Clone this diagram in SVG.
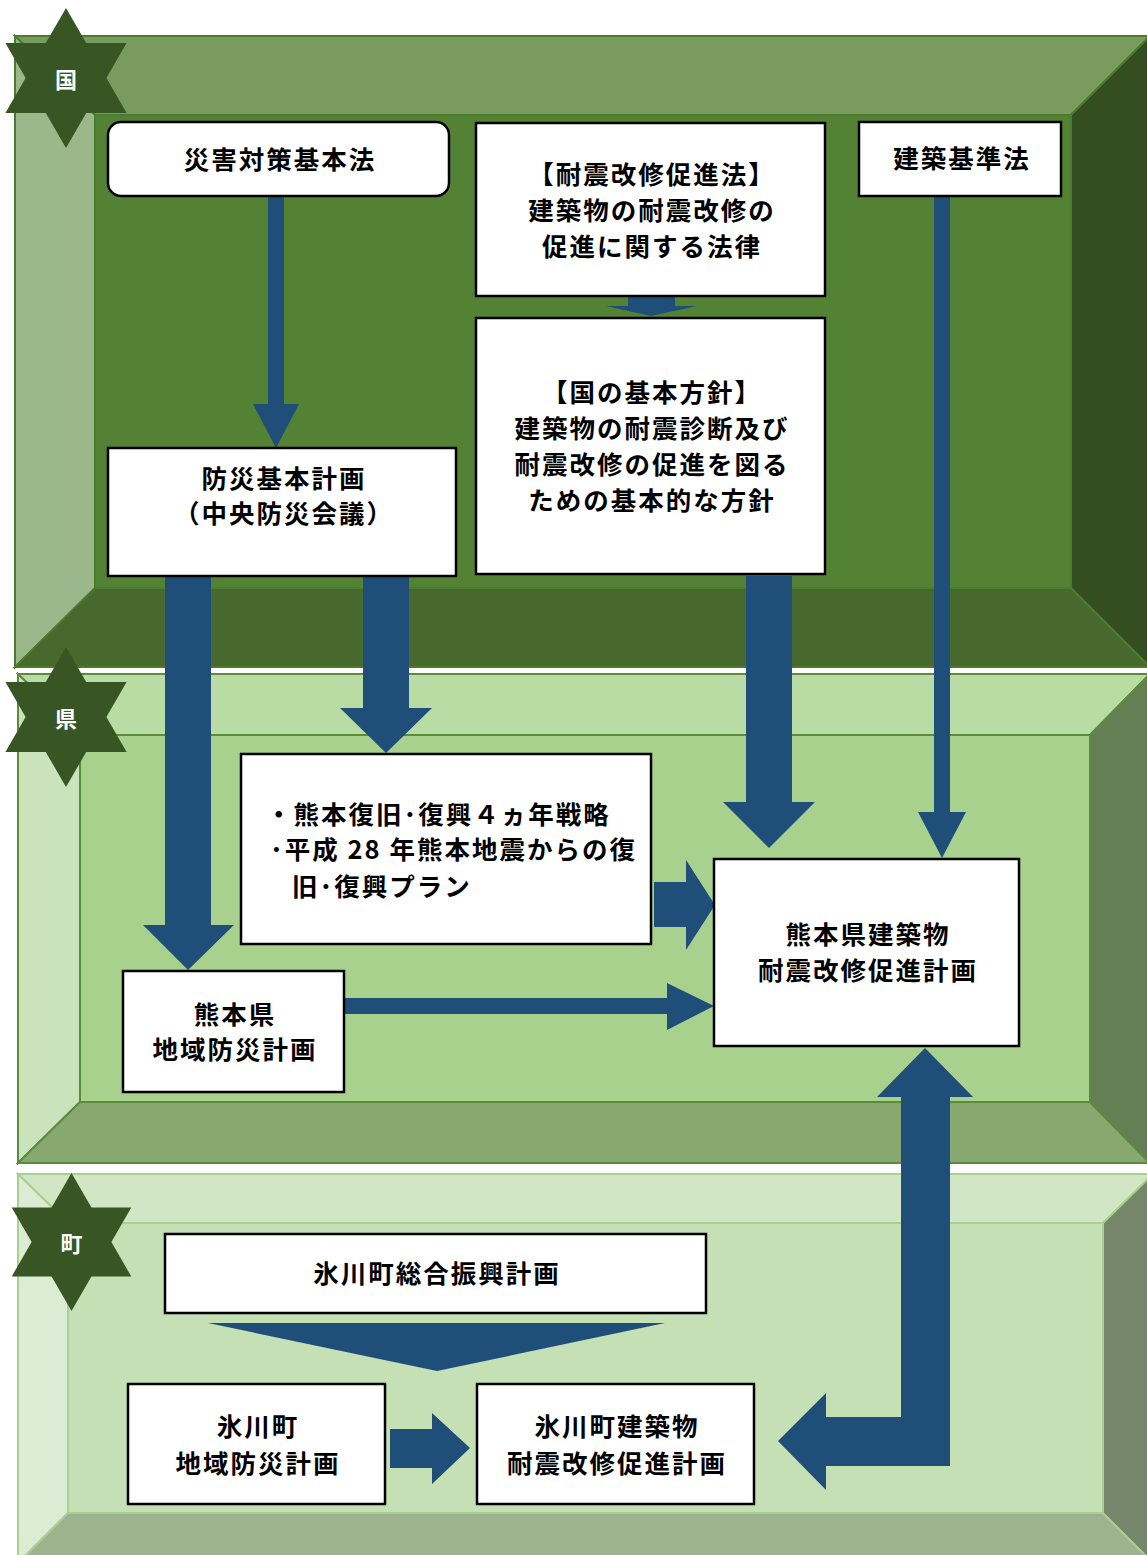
<svg xmlns="http://www.w3.org/2000/svg" width="1147" height="1555" viewBox="0 0 1147 1555">
<style>
.box{fill:#fff;stroke:#000;stroke-width:2.5}
.t{font-family:"Noto Sans CJK JP","Noto Sans",sans-serif;font-weight:bold;font-size:25.5px;letter-spacing:2px;fill:#000;text-anchor:middle}
.tl{text-anchor:start}
.st{fill:#375623}
.sl{font-family:"Noto Sans CJK JP","Noto Sans",sans-serif;font-weight:bold;font-size:22px;fill:#fff;text-anchor:middle;dominant-baseline:central}
.ar{fill:#1f4e79}
.p1{stroke:#4c7a2e;stroke-width:2}
.p2{stroke:#5a8c3a;stroke-width:2}
.p3{stroke:#a9d18e;stroke-width:2}
</style>
<rect width="1147" height="1555" fill="#fff"/>
<g id="panel-kuni">
<polygon class="p1" fill="#799c5e" points="15,36 1150,36 1071,115 95,115"/>
<polygon class="p1" fill="#9bb88b" points="15,36 95,115 95,588 15,667"/>
<polygon class="p1" fill="#47692d" points="15,667 95,588 1071,588 1150,667"/>
<polygon class="p1" fill="#344e22" points="1150,36 1071,115 1071,588 1150,667"/>
<rect class="p1" fill="#548235" x="95" y="115" width="976" height="473"/>
</g>
<g id="panel-ken">
<polygon class="p2" fill="#b9dba4" points="18,674 1150,674 1090,735 80,735"/>
<polygon class="p2" fill="#cae3bc" points="18,674 80,735 80,1102 18,1163"/>
<polygon class="p2" fill="#87a870" points="18,1163 80,1102 1090,1102 1150,1163"/>
<polygon class="p2" fill="#647f54" points="1150,674 1090,735 1090,1102 1150,1163"/>
<rect class="p2" fill="#a9d18e" x="80" y="735" width="1010" height="367"/>
</g>
<g id="panel-machi">
<polygon class="p3" fill="#d1e6c4" points="18,1174 1153,1174 1103,1223 68,1223"/>
<polygon class="p3" fill="#dcebd3" points="18,1174 68,1223 68,1513 18,1563"/>
<polygon class="p3" fill="#9db390" points="18,1563 68,1513 1103,1513 1153,1563"/>
<polygon class="p3" fill="#75866b" points="1153,1174 1103,1223 1103,1513 1153,1563"/>
<rect class="p3" fill="#c5e0b4" x="68" y="1223" width="1035" height="290"/>
</g>
<g id="star-kuni">
<polygon class="st" points="66,8 126.6,113 5.4,113"/>
<polygon class="st" points="66,148 126.6,43 5.4,43"/>
<text class="sl" x="66" y="78">国</text>
</g>
<g id="star-ken">
<polygon class="st" points="66,647 126.6,752 5.4,752"/>
<polygon class="st" points="66,787 126.6,682 5.4,682"/>
<text class="sl" x="66" y="717">県</text>
</g>
<g id="star-machi">
<polygon class="st" points="71.5,1173 131.3,1276.5 11.7,1276.5"/>
<polygon class="st" points="71.5,1311 131.3,1207.5 11.7,1207.5"/>
<text class="sl" x="71.5" y="1242">町</text>
</g>
<g id="connectors">
<polygon class="ar" points="268,196 284,196 284,404 299,404 276,448 253,404 268,404"/>
<polygon class="ar" points="628,296 675,296 675,306 697,306 651,316 606,306 628,306"/>
<polygon class="ar" points="165,576 211,576 211,925 234,925 188,970 143,925 165,925"/>
<polygon class="ar" points="363,576 409,576 409,708 432,708 386,753 340,708 363,708"/>
<polygon class="ar" points="746,576 792,576 792,802 815,802 769,848 723,802 746,802"/>
<polygon class="ar" points="934,196 950,196 950,812 966,812 942,858 918,812 934,812"/>
<polygon class="ar" points="654,882 686,882 686,860 715,905 686,950 686,927 654,927"/>
<polygon class="ar" points="344,998 667,998 667,983 714,1006 667,1030 667,1014 344,1014"/>
<polygon class="ar" points="925,1048 973,1097 950,1097 950,1466 826,1466 826,1490 778,1441 826,1393 826,1417 901,1417 901,1097 877,1097"/>
<polygon class="ar" points="208,1323 665,1323 437,1371"/>
<polygon class="ar" points="390,1429 432,1429 432,1413 470,1448 432,1484 432,1468 390,1468"/>
</g>
<g id="n-saigai">
<rect class="box" x="108" y="122" width="341" height="74" rx="13"/>
<text class="t" x="280" y="169">災害対策基本法</text>
</g>
<g id="n-taishinho">
<rect class="box" x="476" y="123" width="349" height="173"/>
<text class="t" x="652" y="184">【耐震改修促進法】</text>
<text class="t" x="652" y="220">建築物の耐震改修の</text>
<text class="t" x="652" y="256">促進に関する法律</text>
</g>
<g id="n-kenchiku">
<rect class="box" x="859" y="122" width="202" height="74"/>
<text class="t" x="962" y="168">建築基準法</text>
</g>
<g id="n-bosai">
<rect class="box" x="108" y="448" width="348" height="128"/>
<text class="t" x="284" y="488">防災基本計画</text>
<text class="t" x="284" y="523">（中央防災会議）</text>
</g>
<g id="n-hoshin">
<rect class="box" x="476" y="318" width="349" height="256"/>
<text class="t" x="652" y="402">【国の基本方針】</text>
<text class="t" x="652" y="438">建築物の耐震診断及び</text>
<text class="t" x="652" y="474">耐震改修の促進を図る</text>
<text class="t" x="652" y="510">ための基本的な方針</text>
</g>
<g id="n-fukko">
<rect class="box" x="241" y="754" width="410" height="190"/>
<text class="t tl" x="266" y="824">・熊本復旧･復興４ヵ年戦略</text>
<text class="t tl" x="270" y="859">･平成 28 年熊本地震からの復</text>
<text class="t tl" x="292" y="896">旧･復興プラン</text>
</g>
<g id="n-kumamoto-taishin">
<rect class="box" x="714" y="859" width="305" height="187"/>
<text class="t" x="868" y="944">熊本県建築物</text>
<text class="t" x="868" y="980">耐震改修促進計画</text>
</g>
<g id="n-kumamoto-bosai">
<rect class="box" x="123" y="971" width="221" height="121"/>
<text class="t" x="235" y="1024">熊本県</text>
<text class="t" x="235" y="1059">地域防災計画</text>
</g>
<g id="n-hikawa-sogo">
<rect class="box" x="165" y="1234" width="541" height="79"/>
<text class="t" x="437" y="1283">氷川町総合振興計画</text>
</g>
<g id="n-hikawa-bosai">
<rect class="box" x="128" y="1384" width="257" height="120"/>
<text class="t" x="258" y="1436">氷川町</text>
<text class="t" x="258" y="1473">地域防災計画</text>
</g>
<g id="n-hikawa-taishin">
<rect class="box" x="477" y="1384" width="277" height="120"/>
<text class="t" x="617" y="1436">氷川町建築物</text>
<text class="t" x="617" y="1473">耐震改修促進計画</text>
</g>
</svg>
